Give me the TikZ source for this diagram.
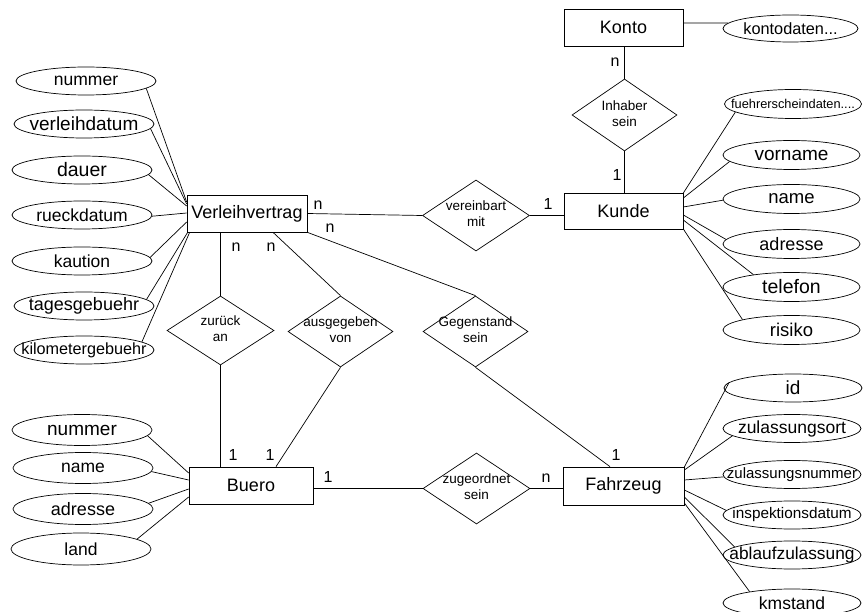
\documentclass[tikz,border=0pt]{standalone}
\usepackage{fontspec}
\setmainfont{Liberation Sans}
\usetikzlibrary{shapes.geometric,calc}
\newcommand\fs[1]{\fontsize{#1}{#1}\selectfont}
\newcommand\ztxt[1]{\makebox[0pt]{#1}}
\newcommand\dtext[2]{\makebox[0pt]{\fontsize{13.5}{16}\selectfont\begin{tabular}{@{}c@{}}#1\\#2\end{tabular}}}
\tikzset{
  ent/.style={draw, rectangle, inner sep=0pt, font=\fs{18}},
  rel/.style={draw, diamond, inner sep=0pt, font=\fs{13.5}},
  att/.style={draw, ellipse, inner sep=0pt, minimum width=140pt, minimum height=28pt, font=\fs{17.5}},
  card/.style={inner sep=0pt, font=\fs{16}},
  conn/.style={draw, line width=0.7pt}
}
\begin{document}
\begin{tikzpicture}[x=1pt,y=-1pt, every node/.append style={line width=0.7pt}]
\fill[white] (0,0) rectangle (863,612);
\useasboundingbox (0,0) rectangle (863,612);
% entities
\node[ent, minimum width=120pt, minimum height=37pt] (V) at (247,213.5) {Verleihvertrag};
\node[ent, minimum width=119pt, minimum height=36pt] (K) at (623.5,211) {Kunde};
\node[ent, minimum width=119pt, minimum height=37pt] (KO) at (623.5,27.5) {Konto};
\node[ent, minimum width=124pt, minimum height=37pt] (B) at (251,485.5) {Buero};
\node[ent, minimum width=121pt, minimum height=38pt] (F) at (623.5,486) {Fahrzeug};
% relationships
\node[rel, minimum width=107pt, minimum height=71pt] (VM) at (476,215.5) {\dtext{vereinbart}{mit}};
\node[rel, minimum width=107pt, minimum height=69pt] (ZA) at (220.5,330.5) {\dtext{zurück}{an}};
\node[rel, minimum width=105pt, minimum height=71pt] (AV) at (340.5,331.5) {\dtext{ausgegeben}{von}};
\node[rel, minimum width=105pt, minimum height=71pt] (GS) at (475.5,331.5) {\dtext{Gegenstand}{sein}};
\node[rel, minimum width=105pt, minimum height=72pt] (IS) at (624.5,115) {\dtext{Inhaber}{sein}};
\node[rel, minimum width=107pt, minimum height=71pt] (ZS) at (476.5,488.5) {\dtext{zugeordnet}{sein}};
% attributes of Verleihvertrag
\node[att] (a1) at (86,81) {\ztxt{nummer}};
\node[att, font=\fs{19}] (a2) at (84,124) {\ztxt{verleihdatum}};
\node[att, font=\fs{19.5}] (a3) at (82,170) {\ztxt{dauer}};
\node[att] (a4) at (82,215) {\ztxt{rueckdatum}};
\node[att] (a5) at (82,261) {\ztxt{kaution}};
\node[att, font=\fs{18}] (a6) at (84,306) {\ztxt{tagesgebuehr}};
\node[att, font=\fs{16.2}] (a7) at (84,350) {\ztxt{kilometergebuehr}};
% attributes of Konto and Kunde
\node[att, minimum width=135pt, minimum height=27pt, font=\fs{16.3}] (kd) at (790.5,28.5) {\ztxt{kontodaten...}};
\node[att, minimum width=137pt, minimum height=29pt, font=\fs{12.8}] (k1) at (793,104) {\ztxt{fuehrerscheindaten....}};
\node[att, minimum width=137pt, minimum height=29pt, font=\fs{19}] (k2) at (791.5,155) {\ztxt{vorname}};
\node[att, minimum width=137pt, minimum height=29pt, font=\fs{18.5}] (k3) at (791.5,199) {\ztxt{name}};
\node[att, minimum width=137pt, minimum height=29pt, font=\fs{18}] (k4) at (791.5,244) {\ztxt{adresse}};
\node[att, minimum width=137pt, minimum height=29pt, font=\fs{19.5}] (k5) at (791.5,287) {\ztxt{telefon}};
\node[att, minimum width=137pt, minimum height=29pt, font=\fs{18.5}] (k6) at (791.5,330) {\ztxt{risiko}};
% attributes of Fahrzeug
\node[att, minimum width=138pt, font=\fs{19}] (f1) at (793,388) {\ztxt{id}};
\node[att, minimum width=138pt] (f2) at (792,428.5) {\ztxt{zulassungsort}};
\node[att, minimum width=138pt, font=\fs{15}] (f3) at (792,474.5) {\ztxt{zulassungsnummer}};
\node[att, minimum width=138pt, font=\fs{15.3}] (f4) at (792,515) {\ztxt{inspektionsdatum}};
\node[att, minimum width=138pt, font=\fs{17.3}] (f5) at (792,555) {\ztxt{ablaufzulassung}};
\node[att, minimum width=138pt] (f6) at (792,603) {\ztxt{kmstand}};
% attributes of Buero
\node[att, minimum height=31pt, font=\fs{19}] (b1) at (82,430) {\ztxt{nummer}};
\node[att, minimum height=31pt] (b2) at (83,468) {\ztxt{name}};
\node[att, minimum height=31pt, font=\fs{18}] (b3) at (83,509) {\ztxt{adresse}};
\node[att, minimum height=32pt] (b4) at (81,549) {\ztxt{land}};
% attribute connectors
\draw[conn] (a1.-7) -- ([yshift=11.5pt]V.west);
\draw[conn] (a2.-4) -- ([yshift=9.5pt]V.west);
\draw[conn] (a3.-4) -- ([yshift=7.5pt]V.west);
\draw[conn] (a4.-1) -- ([yshift=0.5pt]V.west);
\draw[conn] (a5.3) -- ([yshift=-8.5pt]V.west);
\draw[conn] (a6.6) -- ([xshift=1pt]V.south west);
\draw[conn] (a7.8) -- ([xshift=3pt]V.south west);
\draw[conn] ([yshift=18pt]K.east) -- (k1.188);
\draw[conn] ([yshift=13pt]K.east) -- (k2.186);
\draw[conn] ([yshift=4pt]K.east) -- (k3.181);
\draw[conn] ([yshift=-4pt]K.east) -- (k4.176);
\draw[conn] ([yshift=-9pt]K.east) -- (k5.162);
\draw[conn] ([yshift=-18pt]K.east) -- (k6.168);
\draw[conn] ([yshift=19pt]F.east) -- (f1.175);
\draw[conn] ([yshift=16pt]F.east) -- (f2.187);
\draw[conn] ([yshift=6pt]F.east) -- (f3.182);
\draw[conn] ([yshift=-4pt]F.east) -- (f4.176);
\draw[conn] ([yshift=-11pt]F.east) -- (f5.172);
\draw[conn] ([yshift=-17pt]F.east) -- (f6.165);
\draw[conn] (b1.-5) -- ([yshift=12.5pt]B.west);
\draw[conn] (b2.-3) -- ([yshift=5.5pt]B.west);
\draw[conn] (b3.5) -- ([yshift=-3.5pt]B.west);
\draw[conn] (b4.10) -- ([yshift=-11.5pt]B.west);
\draw[conn] ([yshift=4.5pt]KO.east) -- (kd.175);
% relationship connectors
\draw[conn] (V.east) -- (VM.west);
\draw[conn] (VM.east) -- (VM.east -| K.west);
\draw[conn] (ZA.north |- V.south) -- (ZA.north);
\draw[conn] (ZA.south) -- (ZA.south |- B.north);
\draw[conn] ([xshift=26pt]V.south) -- (AV.north);
\draw[conn] (AV.south) -- ([xshift=25pt]B.north);
\draw[conn] (V.south east) -- (GS.north);
\draw[conn] (GS.south) -- ([xshift=-13.5pt]F.north);
\draw[conn] (ZS.west -| B.east) -- (ZS.west);
\draw[conn] (ZS.east) -- (ZS.east -| F.west);
\draw[conn] (IS.north |- KO.south) -- (IS.north);
\draw[conn] (IS.south) -- (IS.south |- K.north);
% cardinalities
\node[card] (c1) at (318,205) {n};
\node[card] (c2) at (330,228) {n};
\node[card] (c3) at (548,204) {1};
\node[card] (c4) at (236,247) {n};
\node[card] (c5) at (271,247) {n};
\node[card] (c6) at (233,455) {1};
\node[card] (c7) at (270,455) {1};
\node[card] (c8) at (328,477) {1};
\node[card] (c9) at (546,478) {n};
\node[card] (c10) at (616,455) {1};
\node[card] (c11) at (615,62) {n};
\node[card] (c12) at (617,175) {1};
\end{tikzpicture}
\end{document}
